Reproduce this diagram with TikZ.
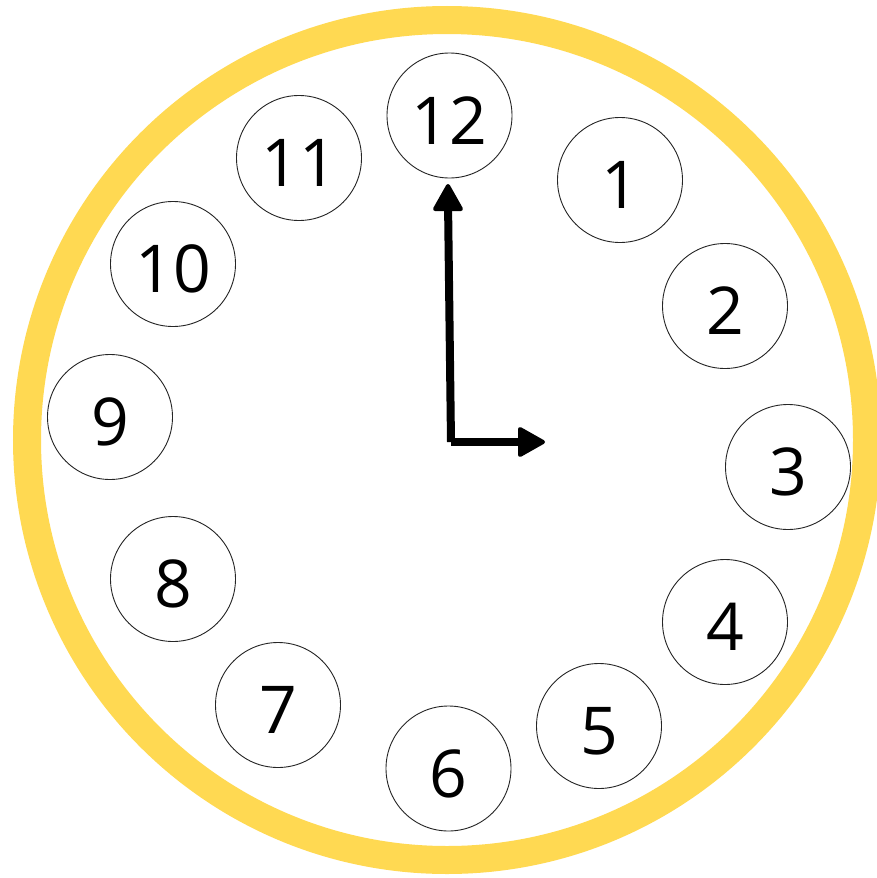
\documentclass[tikz,border=0pt]{standalone}
\usepackage{fontspec}
\setmainfont{Open Sans}
\definecolor{ringyellow}{RGB}{255,217,82}
\tikzset{
  numcircle/.style={circle, draw=black!85, line width=0.9pt, minimum size=125pt, inner sep=0pt},
  numtext/.style={inner sep=0pt, font=\fontsize{66pt}{66pt}\selectfont},
  hand/.style={line width=8pt, line join=miter},
  tiphead/.style={fill=black, draw=black, line width=4pt, line join=round}
}
\begin{document}
\begin{tikzpicture}[x=1pt,y=-1pt]
\useasboundingbox (0,0) rectangle (877,878);
\fill[white] (0,0) rectangle (877,878);
\node[circle, draw=ringyellow, line width=28pt, minimum size=840pt, inner sep=0pt] (ring) at (447,440) {};
\foreach \n/\x/\y in {12/449.5/115.5, 1/620/180, 2/725/306, 3/788/467, 4/725/622, 5/599/726, 6/448.5/768.5, 7/278/705, 8/173/579, 9/110/417, 10/173/264, 11/299/158} {
  \node[numcircle] (c\n) at (\x,\y) {};
  \node[numtext] (t\n) at ([yshift=-5pt]c\n.center) {\n};
}
\coordinate (center) at (451,442);
\coordinate (hourtip) at (543,442);
\coordinate (minutetip) at (448,186);
\draw[hand] (center) -- ([xshift=-15pt]hourtip);
\draw[hand] (center) -- ([yshift=-15pt]minutetip);
\draw[tiphead] (hourtip) -- ++(-23,-13) -- ++(0,26) -- cycle;
\draw[tiphead] (minutetip) -- ++(-13,23) -- ++(26,0) -- cycle;
\end{tikzpicture}
\end{document}
